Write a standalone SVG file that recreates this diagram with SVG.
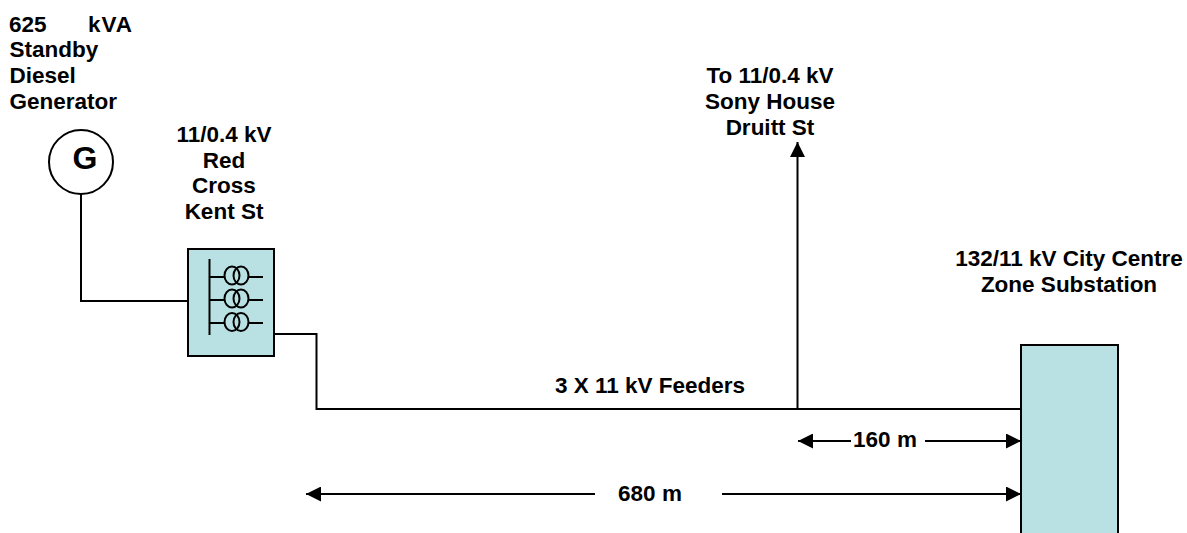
<svg xmlns="http://www.w3.org/2000/svg" width="1187" height="533" viewBox="0 0 1187 533">
<style>
text{font-family:"Liberation Sans",Arial,sans-serif;font-weight:bold;font-size:22.5px;fill:#000}
.m{text-anchor:middle}
.l{fill:none;stroke:#000;stroke-width:2}
.b{fill:#b9e0e3;stroke:#000;stroke-width:2}
</style>
<defs>
<marker id="a" markerUnits="userSpaceOnUse" markerWidth="15" markerHeight="15" refX="15" refY="7.5" orient="auto-start-reverse"><path d="M0 0L15 7.5L0 15Z" fill="#000"/></marker>
</defs>
<rect width="1187" height="533" fill="#fff"/>
<g id="connectors">
<path class="l" d="M81 194V301H188"/>
<path class="l" d="M274 334H316.5V409H1021"/>
<path class="l" d="M797.5 409V142" marker-end="url(#a)"/>
<path class="l" d="M851 441H798" marker-end="url(#a)"/>
<path class="l" d="M925 441H1021" marker-end="url(#a)"/>
<path class="l" d="M595 494H306" marker-end="url(#a)"/>
<path class="l" d="M722 494H1021" marker-end="url(#a)"/>
</g>
<g id="generator">
<circle cx="81" cy="162" r="32" fill="#fff" stroke="#000" stroke-width="2"/>
<text class="m" x="85" y="169" style="font-size:32px">G</text>
<text x="9" y="32">625</text><text x="88" y="32" letter-spacing="1">kVA</text>
<text x="9.5" y="57">Standby</text>
<text x="9.5" y="83">Diesel</text>
<text x="9.5" y="109">Generator</text>
</g>
<g id="red-cross">
<rect class="b" x="188" y="249" width="86" height="107"/>
<path class="l" d="M209.5 259V335"/>
<g id="transformers">
<path class="l" d="M209 277H224M249 277H263M209 300H224M249 300H263M209 323H224M249 323H263"/>
<ellipse class="l" cx="232" cy="275.5" rx="7.5" ry="9"/><ellipse class="l" cx="241" cy="275.5" rx="7.5" ry="9"/>
<ellipse class="l" cx="232" cy="298.5" rx="7.5" ry="9"/><ellipse class="l" cx="241" cy="298.5" rx="7.5" ry="9"/>
<ellipse class="l" cx="232" cy="322" rx="7.5" ry="9"/><ellipse class="l" cx="241" cy="322" rx="7.5" ry="9"/>
</g>
<text class="m" x="224" y="142">11/0.4 kV</text>
<text class="m" x="224" y="168">Red</text>
<text class="m" x="224" y="193">Cross</text>
<text class="m" x="224" y="219">Kent St</text>
</g>
<g id="sony-house">
<text class="m" x="770" y="83">To 11/0.4 kV</text>
<text class="m" x="770" y="109">Sony House</text>
<text class="m" x="770" y="135">Druitt St</text>
</g>
<g id="zone-substation">
<rect class="b" x="1021" y="345" width="97" height="200"/>
<text class="m" x="1069" y="266">132/11 kV City Centre</text>
<text class="m" x="1069" y="292">Zone Substation</text>
</g>
<g id="labels">
<text class="m" x="650" y="393">3 X 11 kV Feeders</text>
<text class="m" x="885" y="447">160 m</text>
<text class="m" x="650" y="501">680 m</text>
</g>
</svg>
